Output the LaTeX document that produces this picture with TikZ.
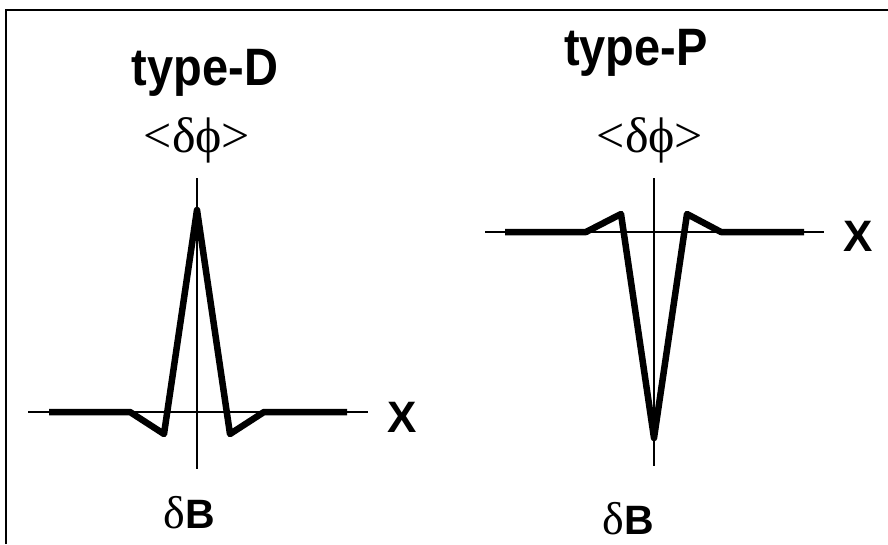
\documentclass[tikz,border=0pt]{standalone}
\usepackage{fontspec}
\setmainfont{Liberation Serif}
\setsansfont{Liberation Sans}
\begin{document}
\begin{tikzpicture}[x=1pt,y=-1pt,
  frame/.style={line width=2.2pt},
  axis/.style={line width=1.5pt},
  curve/.style={line width=6.5pt, line join=round, line cap=butt},
  title/.style={font=\sffamily\bfseries\fontsize{47}{47}\selectfont, inner sep=0pt, anchor=base, yscale=1.12},
  xlab/.style={font=\sffamily\bfseries\fontsize{44}{44}\selectfont, inner sep=0pt},
  philab/.style={font=\rmfamily\fontsize{50}{50}\selectfont, inner sep=0pt},
  blab/.style={inner sep=0pt, anchor=base}]
\useasboundingbox (0,0) rectangle (888,544);
\draw[frame] (6,544) -- (6,10) -- (888,10);
% left panel
\node[title] (tD) at (205,85) {type-D};
\node[philab] (phiL) at (197,140) {<δϕ>};
\coordinate (Lvt) at (197,178);
\coordinate (Lvb) at (197,469);
\coordinate (Lhl) at (28,412);
\coordinate (Lhr) at (368,412);
\draw[axis] (Lvt) -- (Lvb);
\draw[axis] (Lhl) -- (Lhr);
\draw[curve] (49,412) -- (130,412) -- (164,434) -- (197,210) -- (230,434) -- (264,412) -- (347,412);
\node[xlab] (XL) at (402,417) {X};
\node[blab] (dBL) at (189,528) {\fontsize{46}{46}\selectfont δ\sffamily\bfseries\fontsize{41}{41}\selectfont B};
% right panel
\node[title] (tP) at (636,65) {type-P};
\node[philab] (phiR) at (650,140) {<δϕ>};
\coordinate (Rvt) at (654,178);
\coordinate (Rvb) at (654,466);
\coordinate (Rhl) at (485,232);
\coordinate (Rhr) at (824,232);
\draw[axis] (Rvt) -- (Rvb);
\draw[axis] (Rhl) -- (Rhr);
\draw[curve] (505,232) -- (586,232) -- (621,214) -- (654,438) -- (687,214) -- (721,232) -- (804,232);
\node[xlab] (XR) at (858,236) {X};
\node[blab] (dBR) at (628,534) {\fontsize{46}{46}\selectfont δ\sffamily\bfseries\fontsize{41}{41}\selectfont B};
\end{tikzpicture}
\end{document}
